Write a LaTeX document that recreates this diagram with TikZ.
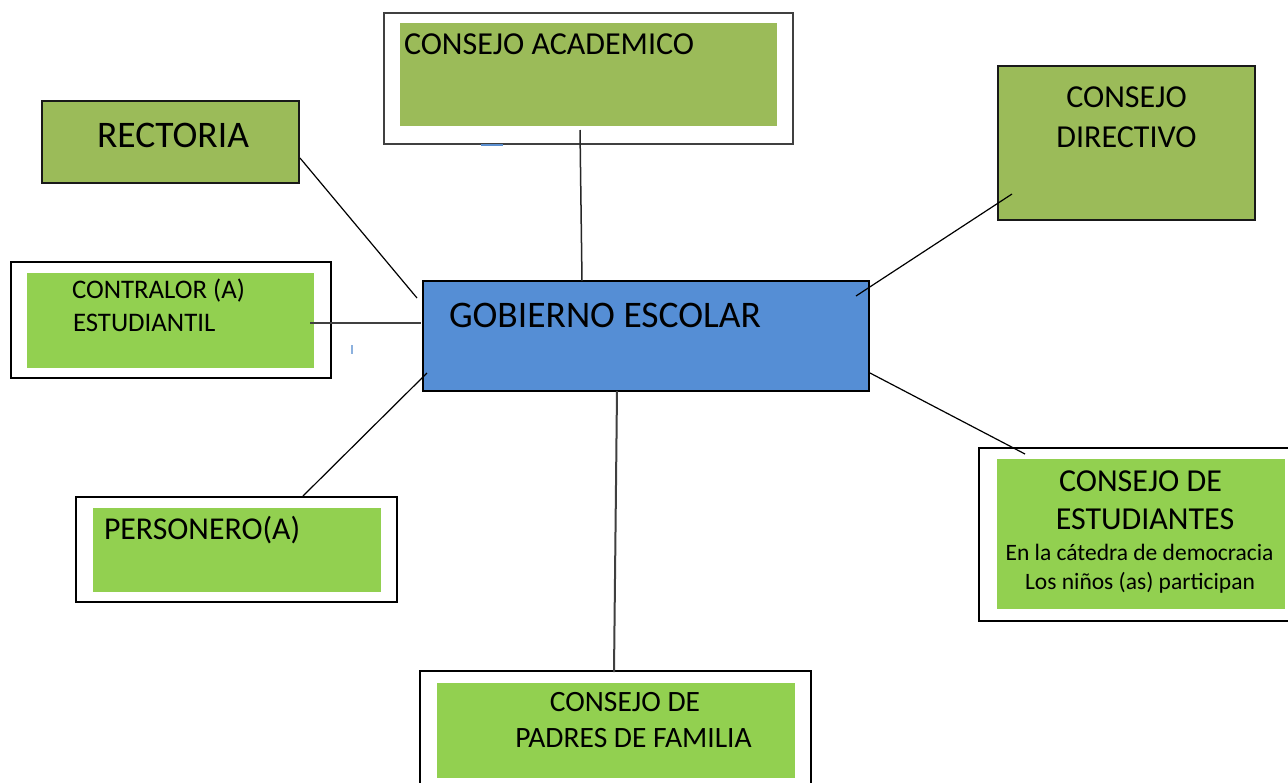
\documentclass[tikz,border=0pt]{standalone}
\usepackage{fontspec}
\setmainfont{Carlito}
\definecolor{olivegreen}{HTML}{9BBB59}
\definecolor{lightgreen}{HTML}{92D050}
\definecolor{govblue}{HTML}{558ED5}
\definecolor{markblue}{HTML}{5B8FD0}
\begin{document}
\begin{tikzpicture}[x=1pt,y=-1pt,
  box/.style={rectangle, inner sep=0pt, outer sep=0pt},
  boxsize/.style 2 args={minimum width=#1pt, minimum height=#2pt},
  olivebox/.style={box, fill=olivegreen, draw=black!90, line width=2pt},
  framebox/.style={box, fill=white, draw=black, line width=2pt},
  greenfill/.style={box, fill=lightgreen},
  olivefill/.style={box, fill=olivegreen},
  conn/.style={black, line width=1.2pt},
  txt/.style={inner sep=0pt, outer sep=0pt, text=black},
]
\useasboundingbox (0,0) rectangle (1288,782);
\clip (0,0) rectangle (1288,782);
\fill[white] (0,0) rectangle (1288,782);

% boxes
\node[olivebox, boxsize={257}{82}] (rect) at (170.5,142) {};
\node[framebox, draw=black!75, line width=1.5pt, boxsize={409}{131}] (acadOut) at (588.5,78.5) {};
\node[olivefill, boxsize={377}{103}] (acadIn) at (588.5,74.5) {};
\node[olivebox, boxsize={257}{154}] (dir) at (1126.5,143) {};
\node[box, fill=govblue, draw=black, line width=2.5pt, boxsize={446}{110}] (gob) at (646,336) {};
\node[framebox, line width=2.5pt, boxsize={320}{116}] (contOut) at (171,320) {};
\node[greenfill, boxsize={287}{95}] (contIn) at (170.5,320.5) {};
\node[framebox, boxsize={321}{105}] (persOut) at (236.5,549.5) {};
\node[greenfill, boxsize={288}{84}] (persIn) at (237,550) {};
\node[framebox, boxsize={321}{173}] (estOut) at (1139.5,534.5) {};
\node[greenfill, boxsize={288}{150}] (estIn) at (1141,534) {};
\node[framebox, boxsize={391}{124}] (padOut) at (615.5,733) {};
\node[greenfill, boxsize={358}{95}] (padIn) at (616,730.5) {};

% texts
\node[txt, anchor=base, font=\fontsize{37.5}{45}\selectfont] (tRect) at (173,147) {RECTORIA};
\node[txt, anchor=base west, font=\fontsize{32}{39}\selectfont] (tAcad) at (404,54) {CONSEJO ACADEMICO};
\node[txt, anchor=base, font=\fontsize{32}{38}\selectfont] (tDir1) at (1126.5,107) {CONSEJO};
\node[txt, anchor=base, font=\fontsize{32}{38}\selectfont] (tDir2) at (1126.5,147) {DIRECTIVO};
\node[txt, anchor=base west, font=\fontsize{37.5}{45}\selectfont] (tGob) at (449,327) {GOBIERNO ESCOLAR};
\node[txt, anchor=base west, font=\fontsize{26.8}{33}\selectfont] (tCont1) at (72,298) {CONTRALOR (A)};
\node[txt, anchor=base west, font=\fontsize{26.8}{33}\selectfont] (tCont2) at (73,331) {ESTUDIANTIL};
\node[txt, anchor=base west, font=\fontsize{31.8}{37}\selectfont] (tPers) at (104,539) {PERSONERO(A)};
\node[txt, anchor=base, font=\fontsize{32}{37}\selectfont] (tEst1) at (1140.5,491) {CONSEJO DE};
\node[txt, anchor=base, font=\fontsize{32}{37}\selectfont] (tEst2) at (1145,529) {ESTUDIANTES};
\node[txt, anchor=base, font=\fontsize{23.5}{28}\selectfont] (tEst3) at (1139.5,560) {En la cátedra de democracia};
\node[txt, anchor=base, font=\fontsize{23.5}{28}\selectfont] (tEst4) at (1140,589) {Los niños (as) participan};
\node[txt, anchor=base, font=\fontsize{29.5}{35}\selectfont] (tPad1) at (625,711) {CONSEJO DE};
\node[txt, anchor=base, font=\fontsize{29.5}{35}\selectfont] (tPad2) at (633.5,747.5) {PADRES DE FAMILIA};

% connector end points
\coordinate (rectA) at (300,158);
\coordinate (rectB) at (417,298);
\coordinate (acadA) at (580,130);
\coordinate (acadB) at (582,281);
\coordinate (dirA) at (1012,194);
\coordinate (dirB) at (856,296);
\coordinate (contA) at (310,323);
\coordinate (contB) at (421,323);
\coordinate (persA) at (303,496);
\coordinate (persB) at (427,373);
\coordinate (estA) at (870,373);
\coordinate (estB) at (1025,454);
\coordinate (padA) at (617,391);
\coordinate (padB) at (614,672);

% connectors
\draw[conn] (rectA) -- (rectB);
\draw[conn, line width=1.5pt, black!85] (acadA) -- (acadB);
\draw[conn] (dirA) -- (dirB);
\draw[conn, line width=2pt, black!75] (contA) -- (contB);
\draw[conn] (persA) -- (persB);
\draw[conn] (estA) -- (estB);
\draw[conn, line width=2pt, black!75] (padA) -- (padB);

% small marks
\coordinate (markA1) at (481,145);
\coordinate (markA2) at (503,145);
\draw[markblue, line width=1.5pt] (markA1) -- (markA2);
\coordinate (markB1) at (352,345);
\coordinate (markB2) at (352,354);
\draw[markblue!70, line width=1.2pt] (markB1) -- (markB2);
\end{tikzpicture}
\end{document}
